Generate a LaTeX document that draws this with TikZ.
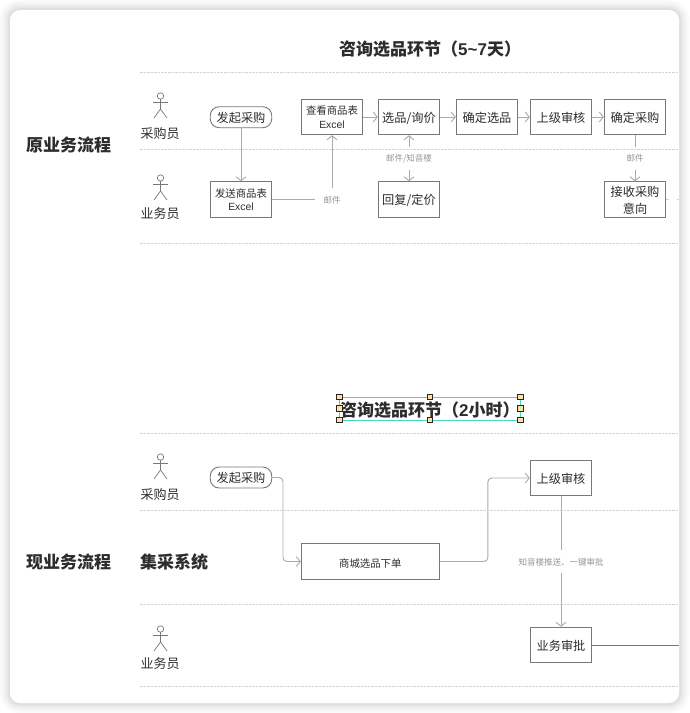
\documentclass[tikz,border=0pt]{standalone}
\usepackage{fontspec}
\setmainfont{Liberation Sans}[BoldFont=Liberation Sans Bold]
\newfontfamily\cjk{Noto Sans CJK SC}
\usetikzlibrary{arrows.meta}
\definecolor{boxgray}{RGB}{120, 120, 120}
\definecolor{linegray}{RGB}{170, 170, 170}
\definecolor{dashgray}{RGB}{210, 210, 210}
\definecolor{inkgray}{RGB}{45, 45, 45}
\definecolor{notegray}{RGB}{150, 150, 150}
\definecolor{handlefill}{RGB}{255, 224, 165}
\definecolor{selteal}{RGB}{70, 215, 190}
\tikzset{
  box/.style={draw=boxgray, line width=0.9pt, fill=white, minimum width=61.5pt, minimum height=35.5pt, inner sep=0pt, align=center, text=inkgray, text depth=0pt, font=\fontsize{12.2}{17}\selectfont\cjk},
  smallbox/.style={box, execute at begin node={\rule{0pt}{12pt}}, font=\fontsize{10.4}{13.5}\selectfont\cjk},
  startbox/.style={box, rounded corners=9pt, minimum height=21pt},
  link/.style={draw=linegray, line width=0.9pt, -{Straight Barb[length=4pt,width=10pt]}},
  plain/.style={draw=linegray, line width=0.9pt},
  note/.style={fill=white, inner xsep=9pt, inner ysep=0pt, minimum height=23pt, text depth=0pt, text=notegray, font=\fontsize{8.5}{9}\selectfont\cjk},
  role/.style={text=inkgray, text depth=0pt, font=\fontsize{13}{15}\selectfont\cjk},
  heading/.style={text=inkgray, inner sep=0pt, font=\fontsize{17}{20}\selectfont\cjk\bfseries},
  handle/.style={draw=black!85, line width=0.8pt, fill=handlefill, minimum size=5.5pt, inner sep=0pt},
}
\begin{document}
\begin{tikzpicture}[x=1pt, y=-1pt]
        \useasboundingbox (0,0) rectangle (689,713);
        % Card with soft shadow
        \fill[white] (0,0) rectangle (689,713);
        \foreach \w/\c in {20/2, 16/4, 12/6, 8/9, 4/12} {
            \draw[black!\c, line width=\w pt, rounded corners=10pt] (10,10) rectangle (679,703);
        }
        \fill[white, rounded corners=10pt] (10,10) rectangle (679,703);

        % Actors
        \foreach \y in {96, 178, 457, 629} {
            \draw[boxgray, line width=0.7pt] (160.5,\y) circle (3.2);
            \draw[boxgray, line width=0.7pt] (160.5,\y+3.2) -- (160.5,\y+13) -- (154,\y+22);
            \draw[boxgray, line width=0.7pt] (160.5,\y+13) -- (167,\y+22);
            \draw[boxgray, line width=0.7pt] (153,\y+6) -- (168,\y+6);
        }
        \node[role] (buyerA) at (160,133) {采购员};
        \node[role] (salesA) at (160,213.5) {业务员};
        \node[role] (buyerB) at (160,494) {采购员};
        \node[role] (salesB) at (160,663) {业务员};

        % Headings
        \node[heading, anchor=west] (titleA) at (339,49) {咨询选品环节（{\rmfamily\bfseries 5\textasciitilde 7}天）};
        \node[heading, anchor=west] (oldflow) at (26,145) {原业务流程};
        \node[heading, anchor=west] (newflow) at (26,562) {现业务流程};
        \node[heading, anchor=west] (mall) at (140,562) {集采系统};

        % Row 1: old flow
        \node[startbox] (startA) at (241,117.2) {发起采购};
        \node[smallbox] (view) at (332,117) {查看商品表\\{\rmfamily Excel}};
        \node[box] (pick) at (409,117) {选品/询价};
        \node[box] (fix) at (487,117) {确定选品};
        \node[box] (auditA) at (561,117) {上级审核};
        \node[box] (order) at (635,117) {确定采购};

        % Row 2: old flow
        \node[smallbox] (send) at (241,199.5) {发送商品表\\{\rmfamily Excel}};
        \node[box] (quote) at (409,199.5) {回复/定价};
        \node[box] (accept) at (635,199.5) {接收采购\\意向};
        \coordinate (edgeA) at (679,199.5);

        \draw[link] (startA) -- (send);
        \draw[link] (send) -| node[note] (mailA) {邮件} (view);
        \draw[link] (view) -- (pick);
        \draw[link] (pick) -- (fix);
        \draw[link] (fix) -- (auditA);
        \draw[link] (auditA) -- (order);
        \draw[link, {Straight Barb[length=4pt,width=10pt]}-{Straight Barb[length=4pt,width=10pt]}] (pick) -- node[note] (mailB) {邮件/知音楼} (quote);
        \draw[link] (order) -- node[note] (mailC) {邮件} (accept);
        \draw[plain, draw=dashgray] (accept) -- node[fill=white, minimum width=8pt, minimum height=4pt, inner sep=0pt] (gapA) {} (edgeA);

        % New flow
        \node[heading, anchor=west] (titleB) at (340,410) {咨询选品环节（{\rmfamily\bfseries 2}小时）};
        \node[startbox] (startB) at (241,477.5) {发起采购};
        \node[smallbox, minimum width=138pt] (shop) at (370.3,561.5) {商城选品下单};
        \node[box] (auditB) at (561,478) {上级审核};
        \node[box] (approve) at (561,645) {业务审批};
        \coordinate (edgeB) at (679,645);

        \draw[link, rounded corners=4pt] (startB) -- ++(42,0) |- (shop);
        \draw[link, rounded corners=4pt] (shop) -- ++(117.5,0) |- (auditB);
        \draw[link] (auditB) -- node[note] (push) {知音楼推送、一键审批} (approve);
        \draw[plain, draw=boxgray] (approve) -- (edgeB);

        % Lanes
        \foreach \y in {72.5, 149.5, 243.5, 433.5, 510.5, 604.5, 686.5} {
            \draw[dashgray, dash pattern=on 2.5pt off 1pt, line width=0.6pt] (140,\y) -- (679,\y);
        }

        % Selection frame
        \draw[selteal, line width=0.8pt] (339.5,397) rectangle (520.5,420);
        \foreach \x/\y/\n in {339.5/397/a, 430/397/b, 520.5/397/c, 339.5/408.5/d, 520.5/408.5/e, 339.5/420/f, 430/420/g, 520.5/420/h} {
            \node[handle] (grip\n) at (\x,\y) {};
        }
\end{tikzpicture}
\end{document}
